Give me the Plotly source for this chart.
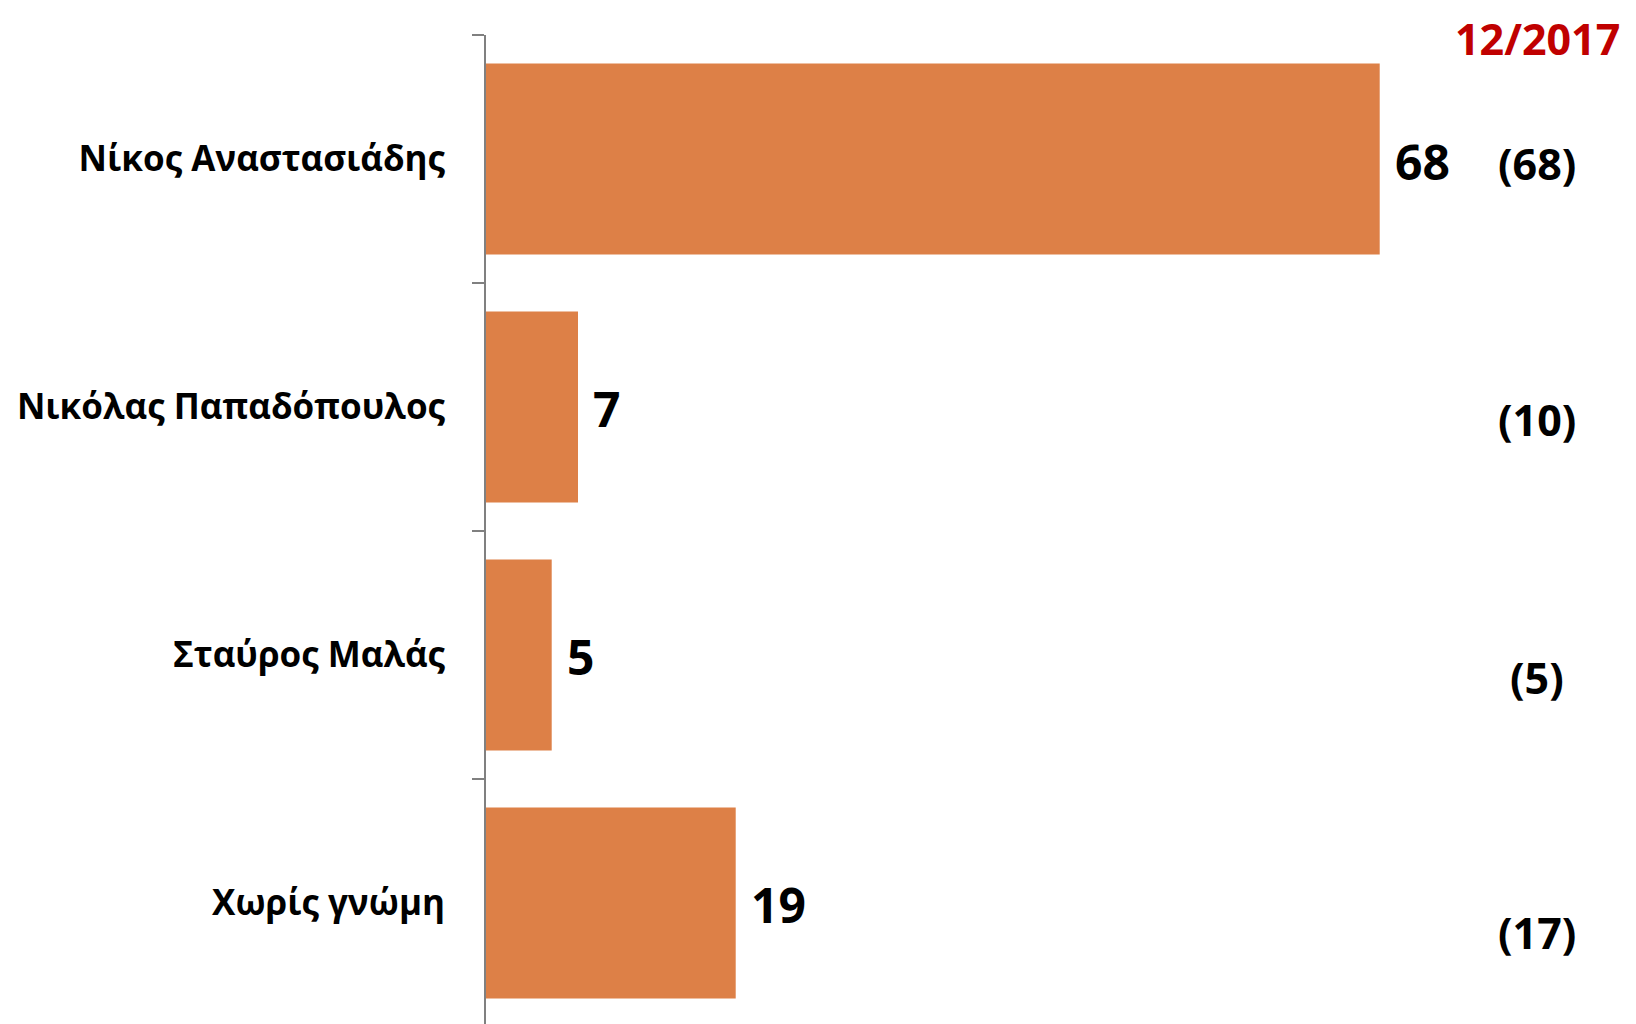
import plotly.graph_objects as go

categories = ["Νίκος Αναστασιάδης", "Νικόλας Παπαδόπουλος", "Σταύρος Μαλάς", "Χωρίς γνώμη"]
values = [68, 7, 5, 19]
previous = ["(68)", "(10)", "(5)", "(17)"]
date_label = "12/2017"

FONT = "Open Sans"
BAR = "#DD8047"

fig = go.Figure(go.Bar(
    x=values, y=categories, orientation="h",
    marker=dict(color=BAR, line=dict(width=0)),
    width=0.77, hoverinfo="skip",
))

annotations = []
for c, v in zip(categories, values):
    annotations.append(dict(
        x=v, y=c, xref="x", yref="y", text=f"<b>{v}</b>", showarrow=False,
        xanchor="left", yanchor="middle", xshift=13, yshift=-2,
        font=dict(family=FONT, size=48, color="#000000"),
    ))
prev_shift = [-4, -13, -23, -30]
for c, p, s in zip(categories, previous, prev_shift):
    annotations.append(dict(
        x=0.914, y=c, xref="paper", yref="y", text=f"<b>{p}</b>", showarrow=False,
        xanchor="center", yanchor="middle", yshift=s,
        font=dict(family=FONT, size=43, color="#000000"),
    ))
annotations.append(dict(
    x=0.914, y=1, xref="paper", yref="paper", text=f"<b>{date_label}</b>", showarrow=False,
    xanchor="center", yanchor="top", yshift=27, borderpad=0,
    font=dict(family=FONT, size=43, color="#C00000"),
))

fig.update_layout(
    width=1628, height=1016,
    margin=dict(l=478, r=0, t=27, b=0, pad=0),
    paper_bgcolor="white", plot_bgcolor="white",
    showlegend=False,
    annotations=annotations,
    xaxis=dict(range=[0, 87.5], visible=False, showgrid=False, zeroline=False),
    yaxis=dict(
        range=[3.488, -0.5], showgrid=False, zeroline=False,
        showline=True, linecolor="#808080", linewidth=2,
        ticks="outside", tickson="boundaries", ticklen=12, tickwidth=2, tickcolor="#808080",
        ticklabelstandoff=32,
        tickfont=dict(family=FONT, size=35, color="#000000"),
        tickvals=categories, ticktext=[f"<b>{c}</b>" for c in categories],
    ),
)

fig.write_html("out.html")
